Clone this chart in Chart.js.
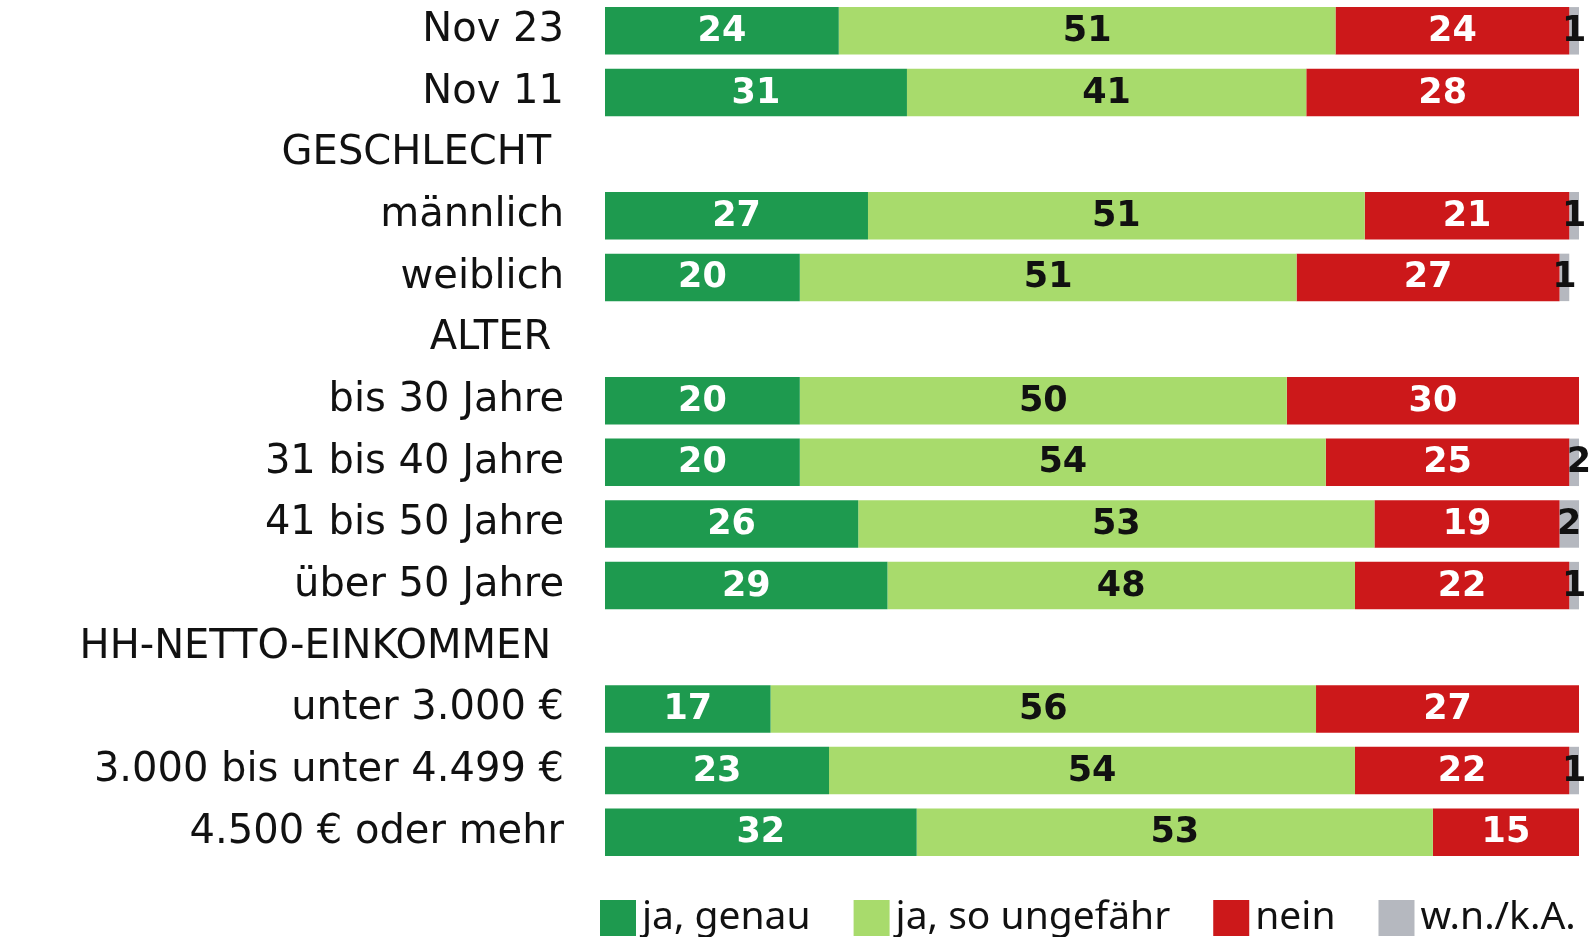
<!DOCTYPE html>
<html><head><meta charset="utf-8">
<script src="https://cdn.jsdelivr.net/npm/chart.js@4/dist/chart.umd.min.js"></script>
<style>html,body{margin:0;padding:0;background:#fff}#wrap{width:1589px;height:937px;position:relative}</style>
</head><body><div id="wrap"><canvas id="c" width="1589" height="937"></canvas></div>
<script>
const categories = ["Nov 23","Nov 11","GESCHLECHT ","männlich","weiblich","ALTER ","bis 30 Jahre","31 bis 40 Jahre","41 bis 50 Jahre","über 50 Jahre","HH-NETTO-EINKOMMEN ","unter 3.000 €","3.000 bis unter 4.499 €","4.500 € oder mehr"];
const jaGenau   = [24,31,null,27,20,null,20,20,26,29,null,17,23,32];
const jaUngefaehr = [51,41,null,51,51,null,50,54,53,48,null,56,54,53];
const nein      = [24,28,null,21,27,null,30,25,19,22,null,27,22,15];
const wnka      = [1,null,null,1,1,null,null,2,2,1,null,null,1,null];
const seriesNames = ["ja, genau","ja, so ungefähr","nein","w.n./k.A."];
const seriesColors = ["#1e9a4f","#a8db6c","#cc181a","#b5b8bf"];
const labelColors = ["#ffffff","#111111","#ffffff","#111111"];

const TICKFONT = "'DejaVu Sans', sans-serif";
const LEGFONT = "'Noto Sans', sans-serif";

const valueLabels = {
  id:'valueLabels',
  afterDraw(chart){
    const ctx = chart.ctx;
    ctx.save();
    ctx.font = "bold 35px " + TICKFONT;
    ctx.textAlign = 'center';
    ctx.textBaseline = 'middle';
    chart.data.datasets.forEach((ds,i)=>{
      const meta = chart.getDatasetMeta(i);
      meta.data.forEach((el,j)=>{
        const v = ds.data[j];
        if(v==null || v===0) return;
        const cx = (el.x + el.base)/2;
        ctx.fillStyle = labelColors[i];
        ctx.fillText(String(v), cx, el.y + 1);
      });
    });
    ctx.restore();
  }
};

const customLegend = {
  id:'customLegend',
  afterDraw(chart){
    const ctx = chart.ctx;
    ctx.save();
    ctx.font = "39px " + LEGFONT;
    ctx.textBaseline = 'middle';
    ctx.textAlign = 'left';
    let x = 600;
    const boxTop = 900, box = 36;
    chart.data.datasets.forEach((ds,i)=>{
      ctx.fillStyle = ds.backgroundColor;
      ctx.fillRect(x, boxTop, box, box);
      x += box + 6;
      ctx.fillStyle = '#111';
      ctx.fillText(ds.label, x, boxTop + box/2);
      x += ctx.measureText(ds.label).width + 43;
    });
    ctx.restore();
  }
};

new Chart(document.getElementById('c'), {
  type:'bar',
  data:{
    labels: categories,
    datasets: [jaGenau, jaUngefaehr, nein, wnka].map((d,i)=>({
      label: seriesNames[i], data: d, backgroundColor: seriesColors[i],
      borderWidth: 0, categoryPercentage: 1, barPercentage: 0.77
    }))
  },
  options:{
    indexAxis:'y',
    responsive:false,
    animation:false,
    layout:{padding:{top:-1,left:0,right:10,bottom:74}},
    plugins:{legend:{display:false}, tooltip:{enabled:false}},
    scales:{
      x:{stacked:true, min:0, max:100, display:false},
      y:{stacked:true, grid:{display:false, drawTicks:false}, border:{display:false},
         ticks:{font:{family:TICKFONT, size:40}, color:'#111', padding:41},
         afterFit(scale){ scale.width = 605; scale.paddingTop = 0; scale.paddingBottom = 0; }}
    }
  },
  plugins:[valueLabels, customLegend]
});
</script>
</body></html>
